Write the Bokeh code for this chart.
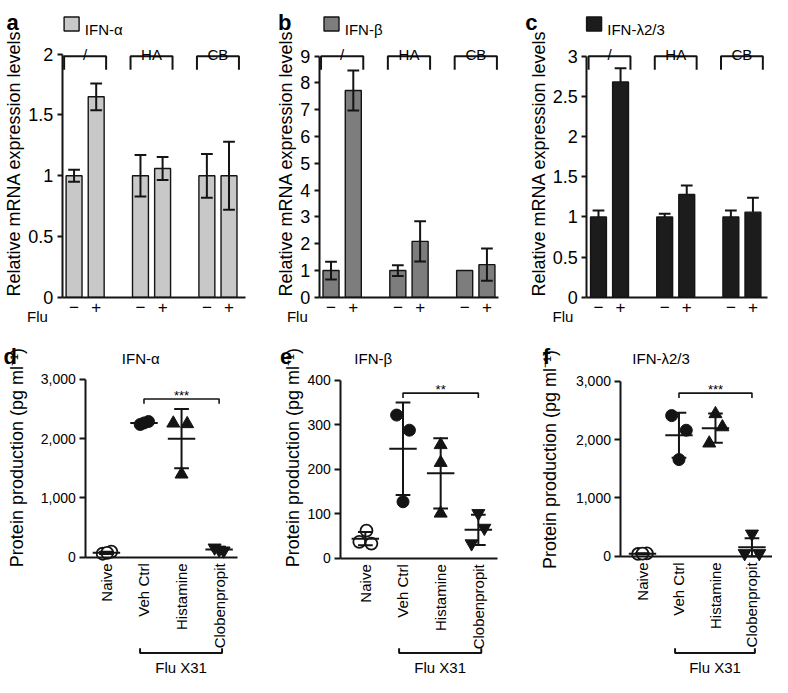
import math
from bokeh.plotting import figure
from bokeh.layouts import row, column
from bokeh.models import Range1d, FixedTicker, NumeralTickFormatter
from bokeh.core.properties import value
from bokeh.embed import file_html
from bokeh.resources import INLINE

FONT = "Liberation Sans"
INK = "#141414"

# ---------------- data: panels a-c (relative mRNA expression) ----------------
treatments = ["/", "HA", "CB"]
flu_status = ["\u2212", "+", "\u2212", "+", "\u2212", "+"]
a_mean = [1.00, 1.65, 1.00, 1.06, 1.00, 1.00]
a_err = [0.05, 0.11, 0.17, 0.095, 0.18, 0.28]
b_mean = [1.00, 7.72, 1.00, 2.09, 1.00, 1.22]
b_err = [0.33, 0.75, 0.20, 0.75, 0.00, 0.60]
c_mean = [1.00, 2.68, 1.00, 1.28, 1.00, 1.06]
c_err = [0.08, 0.17, 0.04, 0.11, 0.08, 0.18]
a_ticks = [0, 0.5, 1, 1.5, 2]
a_tick_labels = ["0", "0.5", "1", "1.5", "2"]
b_ticks = [0, 1, 2, 3, 4, 5, 6, 7, 8, 9]
b_tick_labels = ["0", "1", "2", "3", "4", "5", "6", "7", "8", "9"]
c_ticks = [0, 0.5, 1, 1.5, 2, 2.5, 3]
c_tick_labels = ["0", "0.5", "1", "1.5", "2", "2.5", "3"]

# ---------------- data: panels d-f (protein production, pg/ml) ----------------
groups = ["Naive", "Veh Ctrl", "Histamine", "Clobenpropit"]
d_naive = [60, 95, 75]
d_veh = [2240, 2290, 2265]
d_hist = [2260, 2250, 1400]
d_clob = [160, 110, 125]
d_mean = [75, 2265, 2000, 130]
d_sd = [18, 25, 500, 25]
e_naive = [62, 37, 33]
e_veh = [322, 288, 127]
e_hist = [255, 215, 101]
e_clob = [101, 68, 33]
e_mean = [44, 246, 191, 64]
e_sd = [15, 104, 79, 34]
f_naive = [40, 50, 45]
f_veh = [2413, 2162, 1659]
f_hist = [2442, 2217, 1939]
f_clob = [385, 50, 50]
f_mean = [45, 2075, 2198, 155]
f_sd = [8, 385, 250, 155]
d_ticks = [0, 1000, 2000, 3000]
e_ticks = [0, 100, 200, 300, 400]
f_ticks = [0, 1000, 2000, 3000]

# ---------------- layout (horizontal spread of the dots, panel geometry) ----------------
d_jit = [[-0.1, 0.13, 0.02], [-0.1, 0.12, 0.0], [-0.22, 0.15, 0.0], [-0.12, 0.12, 0.0]]
e_jit = [[0.03, -0.16, 0.16], [-0.17, 0.17, 0.0], [0.0, 0.0, 0.0], [0.0, 0.16, -0.18]]
f_jit = [[-0.12, 0.12, 0.0], [-0.2, 0.2, 0.0], [0.0, 0.19, -0.17], [0.0, -0.2, 0.2]]

TOP = [
    dict(Wref=260, Href=340, W=255, H=332, xa=75, sx=22.57, ya=304, sy=124.5, yaxis=63, xend=250,
         letter=6, legend=65, flu=27, ylab=(14, 167)),
    dict(Wref=260, Href=340, W=255, H=332, xa=77, sx=22.71, ya=304, sy=27.44, yaxis=65, xend=248,
         letter=23, legend=70, flu=32, ylab=(31, 167)),
    dict(Wref=268, Href=340, W=262, H=332, xa=90, sx=22.57, ya=304, sy=82.33, yaxis=78, xend=263,
         letter=15, legend=78, flu=43, ylab=(29, 167)),
]
BOT = [
    dict(Wref=260, Href=353, W=255, H=345, xa=108, sx=38.3, ya=230, sy=182 / 3000, yaxis=87, xend=242,
         letter=3, title=143, ylab=(17, 128)),
    dict(Wref=260, Href=353, W=255, H=345, xa=112, sx=38.4, ya=231, sy=182 / 400, yaxis=87, xend=247,
         letter=25, title=120, ylab=(38, 128)),
    dict(Wref=268, Href=353, W=262, H=345, xa=135, sx=37.33, ya=229, sy=179 / 3000, yaxis=113, xend=268,
         letter=33, title=154, ylab=(40, 130)),
]


def base_fig(g):
    X = lambda px: (px - g["xa"]) / g["sx"]
    Y = lambda py: (g["ya"] - py) / g["sy"]
    p = figure(width=g["W"], height=g["H"], output_backend="svg", toolbar_location=None,
               x_range=Range1d(X(0), X(g["Wref"])), y_range=Range1d(Y(g["Href"]), Y(0)),
               min_border=0, title=None)
    p.outline_line_color = None
    p.grid.visible = False
    p.background_fill_color = "white"
    p.border_fill_color = "white"
    return p, X, Y


def txt(p, x, y, s, size="15px", align="left", baseline="alphabetic", style="normal", angle=0):
    p.text(x=x, y=y, text=s, text_font=value(FONT), text_font_size=size, text_align=align,
           text_baseline=baseline, text_font_style=style, text_color="black", angle=angle)


def style_axes(p, X, Y, g, yticks, ylabels, yfmt, ytick_size, ytick_out, ylabel,
               xticks, xlabels, xorient, xsize):
    yax = p.yaxis[0]
    yax.fixed_location = X(g["yaxis"])
    yax.bounds = (0, yticks[-1])
    yax.ticker = FixedTicker(ticks=yticks)
    if ylabels is not None:
        yax.major_label_overrides = dict(zip(yticks, ylabels))
    if yfmt is not None:
        yax.formatter = yfmt
    xax = p.xaxis[0]
    xax.fixed_location = 0
    xax.bounds = (X(g["yaxis"]), X(g["xend"]))
    xax.ticker = FixedTicker(ticks=xticks)
    xax.major_label_overrides = dict(zip(xticks, xlabels))
    xax.major_tick_out = 0
    xax.major_tick_in = 0
    xax.major_label_text_font_size = xsize
    if xorient is not None:
        xax.major_label_orientation = xorient
        xax.major_label_standoff = 6
    else:
        xax.major_label_standoff = 4
    for ax in (yax, xax):
        ax.axis_line_width = 2
        ax.axis_line_color = INK
        ax.major_tick_line_width = 2
        ax.major_tick_line_color = INK
        ax.minor_tick_line_color = None
        ax.major_label_text_font = FONT
        ax.major_label_text_color = "black"
    yax.major_tick_in = 0
    yax.major_tick_out = ytick_out
    yax.major_label_standoff = 4
    yax.major_label_text_font_size = ytick_size
    # y-axis title, placed as in the reference
    cx, cy = g["ylab"]
    txt(p, [X(cx)], [Y(cy)], [ylabel], size="18px", align="center", baseline="middle", angle=math.pi / 2)


def bar_panel(g, letter, legend_text, color, means, errs, one_sided, yticks, ylabels):
    p, X, Y = base_fig(g)
    bar_x = [3 * (i // 2) + (i % 2) for i in range(len(means))]
    p.vbar(x=bar_x, top=means, width=0.72, fill_color=color, line_color=INK, line_width=1.4)
    cap = 6 / g["sx"]
    ex = [x for x, e in zip(bar_x, errs) if e > 0]
    hi = [m + e for m, e in zip(means, errs) if e > 0]
    lo = [m if one_sided else m - e for m, e in zip(means, errs) if e > 0]
    p.segment(x0=ex, y0=lo, x1=ex, y1=hi, line_color=INK, line_width=2)
    p.segment(x0=[x - cap for x in ex], y0=hi, x1=[x + cap for x in ex], y1=hi, line_color=INK, line_width=2)
    if not one_sided:
        p.segment(x0=[x - cap for x in ex], y0=lo, x1=[x + cap for x in ex], y1=lo, line_color=INK, line_width=2)
    # treatment brackets
    pad = 0.36 + 2 / g["sx"]
    xs, ys, cx = [], [], []
    for gi in range(len(treatments)):
        x0, x1 = bar_x[2 * gi] - pad, bar_x[2 * gi + 1] + pad
        xs.append([x0, x0, x1, x1])
        ys.append([Y(71), Y(57), Y(57), Y(71)])
        cx.append((bar_x[2 * gi] + bar_x[2 * gi + 1]) / 2)
    p.multi_line(xs=xs, ys=ys, line_color=INK, line_width=2)
    txt(p, cx, [Y(55)] * 3, treatments, align="center")
    # legend swatch
    p.rect(x=[X(g["legend"] + 7.5)], y=[Y(24)], width=15, height=14, width_units="screen",
           height_units="screen", fill_color=color, line_color=INK, line_width=1.4)
    txt(p, [X(g["legend"] + 21)], [Y(29.5)], [legend_text])
    txt(p, [X(g["letter"])], [Y(23)], [letter], size="22px", style="bold")
    txt(p, [X(g["flu"])], [Y(324)], ["Flu"])
    style_axes(p, X, Y, g, yticks, ylabels, None, "18px", 5, "Relative mRNA expression levels",
               bar_x, flu_status, None, "17px")
    return p


def dot_panel(g, letter, title, pts, jit, means, sds, yticks, stars):
    p, X, Y = base_fig(g)
    styles = [dict(marker="circle", size=12, fill_color="white", line_color=INK, line_width=1.8),
              dict(marker="circle", size=12, fill_color=INK, line_color=INK, line_width=1),
              dict(marker="triangle", size=13, fill_color=INK, line_color=INK, line_width=1),
              dict(marker="inverted_triangle", size=13, fill_color=INK, line_color=INK, line_width=1)]
    for k, vals in enumerate(pts):
        p.scatter(x=[k + j for j in jit[k]], y=vals, **styles[k])
    cx = list(range(len(means)))
    hi = [m + s for m, s in zip(means, sds)]
    lo = [max(0, m - s) for m, s in zip(means, sds)]
    cap = 7.5 / g["sx"]
    half = 14 / g["sx"]
    p.segment(x0=cx, y0=lo, x1=cx, y1=hi, line_color=INK, line_width=2)
    p.segment(x0=[x - cap for x in cx], y0=hi, x1=[x + cap for x in cx], y1=hi, line_color=INK, line_width=2)
    p.segment(x0=[x - cap for x in cx], y0=lo, x1=[x + cap for x in cx], y1=lo, line_color=INK, line_width=2)
    p.segment(x0=[x - half for x in cx], y0=means, x1=[x + half for x in cx], y1=means, line_color=INK, line_width=2)
    # significance bracket Veh Ctrl vs Clobenpropit
    top = 68 if letter == "d" else 62
    p.multi_line(xs=[[1, 1, 3, 3]], ys=[[Y(top + 5), Y(top), Y(top), Y(top + 5)]], line_color=INK, line_width=1.6)
    txt(p, [2], [Y(top - 4)], [stars], size="13px", align="center")
    # Flu X31 bracket under the infected groups
    x0, x1 = 1 - 4 / g["sx"], 3 + 3 / g["sx"]
    p.multi_line(xs=[[x0, x0, x1, x1]], ys=[[Y(323), Y(328), Y(328), Y(323)]], line_color=INK, line_width=2)
    txt(p, [(x0 + x1) / 2], [Y(343)], ["Flu X31"], align="center")
    txt(p, [X(g["title"])], [Y(27)], [title], align="center")
    txt(p, [X(g["letter"])], [Y(25)], [letter], size="22px", style="bold")
    style_axes(p, X, Y, g, yticks, None, NumeralTickFormatter(format="0,0"), "14px", 6,
               "Protein production (pg ml\u207b\u00b9)", cx, groups, math.pi / 2, "15px")
    return p


pa = bar_panel(TOP[0], "a", "IFN-\u03b1", "#c8c8c8", a_mean, a_err, False, a_ticks, a_tick_labels)
pb = bar_panel(TOP[1], "b", "IFN-\u03b2", "#7d7d7d", b_mean, b_err, False, b_ticks, b_tick_labels)
pc = bar_panel(TOP[2], "c", "IFN-\u03bb2/3", "#1c1c1c", c_mean, c_err, True, c_ticks, c_tick_labels)

pd_ = dot_panel(BOT[0], "d", "IFN-\u03b1", [d_naive, d_veh, d_hist, d_clob], d_jit, d_mean, d_sd, d_ticks, "***")
pe = dot_panel(BOT[1], "e", "IFN-\u03b2", [e_naive, e_veh, e_hist, e_clob], e_jit, e_mean, e_sd, e_ticks, "**")
pf = dot_panel(BOT[2], "f", "IFN-\u03bb2/3", [f_naive, f_veh, f_hist, f_clob], f_jit, f_mean, f_sd, f_ticks, "***")

layout = column(row(pa, pb, pc), row(pd_, pe, pf))
open("out.html", "w").write(file_html(layout, INLINE))
